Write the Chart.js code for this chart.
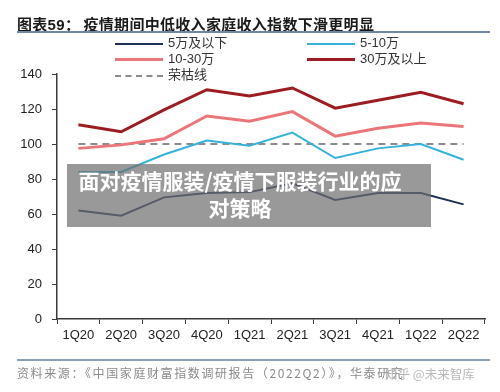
<!DOCTYPE html>
<html>
<head>
<meta charset="utf-8">
<script src="https://cdn.jsdelivr.net/npm/chart.js@4.4.0/dist/chart.umd.min.js"></script>
<style>
  body { margin: 0; background: #fff; }
  #wrap { position: relative; width: 500px; height: 392px; overflow: hidden; font-family: "Liberation Sans", Arial, "Noto Sans CJK SC", sans-serif; }
  #myChart { position: absolute; left: 0; top: 0; }
  .title { position: absolute; left: 17px; top: 13px; font-size: 15px; font-weight: bold; color: #1a1a1a; letter-spacing: 0.3px; white-space: nowrap; }
  .rule { position: absolute; left: 17px; width: 473px; height: 2px; background: #6f87a0; }
  .leg { position: absolute; font-size: 13px; color: #333; white-space: nowrap; line-height: 16px; }
  .leg .sw { display: inline-block; width: 48px; vertical-align: middle; margin-right: 5px; }
  .src { position: absolute; left: 17px; top: 364px; font-size: 12px; color: #8a8a8a; letter-spacing: 1.6px; white-space: nowrap; font-family: "Noto Sans CJK SC", sans-serif; }
  .wm { position: absolute; left: 385px; top: 364px; font-size: 12.5px; color: #b8b8b8; white-space: nowrap; font-family: "Noto Sans CJK SC", sans-serif; }
  .cover { position: absolute; left: 67px; top: 164px; width: 364px; height: 63px; background: rgba(110,110,110,0.7); color: #fff; font-weight: bold; font-size: 21px; line-height: 27px; text-align: center; padding-right: 18px; box-sizing: border-box; padding-top: 3px; font-family: "Noto Sans CJK SC", sans-serif; white-space: nowrap; }
</style>
</head>
<body>
<div id="wrap">
  <canvas id="myChart" width="500" height="392"></canvas>
  <div class="title">图表59：&thinsp;疫情期间中低收入家庭收入指数下滑更明显</div>
  <div class="rule" style="top:31px"></div>
  <div id="legend"></div>
  <div class="cover">面对疫情服装/疫情下服装行业的应<br>对策略</div>
  <div class="rule" style="top:359px; height:1.5px; background:#8aa0b4"></div>
  <div class="src">资料来源：《中国家庭财富指数调研报告（2022Q2）》，华泰研究</div>
  <div class="wm">知乎 @未来智库</div>
</div>
<script>
const categories = ['1Q20', '2Q20', '3Q20', '4Q20', '1Q21', '2Q21', '3Q21', '4Q21', '1Q22', '2Q22'];
const below5 = [62, 59, 69.5, 72, 72.5, 77.5, 68, 72, 72, 65.5];
const from5to10 = [84, 84, 94, 102, 99, 106.5, 92, 97.5, 100, 91];
const from10to30 = [97.5, 99.5, 103, 116, 113, 118.5, 104.5, 109, 112, 110];
const above30 = [111, 107, 119.5, 131, 127.5, 132, 120.5, 125, 129.5, 123];
const boomBust = [100, 100, 100, 100, 100, 100, 100, 100, 100, 100];
const yTicks = [0, 20, 40, 60, 80, 100, 120, 140];

const series = [
  { label: '5万及以下', data: below5, color: '#1c3058', width: 2, dash: [] },
  { label: '5-10万', data: from5to10, color: '#35b2da', width: 2, dash: [] },
  { label: '10-30万', data: from10to30, color: '#ea7679', width: 3, dash: [] },
  { label: '30万及以上', data: above30, color: '#9c1c22', width: 3, dash: [] },
  { label: '荣枯线', data: boomBust, color: '#8c8c8c', width: 2, dash: [7, 5] }
];

// legend, 2 columns
const legPos = [[115, 43], [307, 43], [115, 59], [307, 59], [115, 75]];
let html = '';
series.forEach(function (s, i) {
  let sw;
  if (s.dash.length) {
    sw = '<span class="sw" style="border-top:2px dashed ' + s.color + ';height:0"></span>';
  } else {
    sw = '<span class="sw" style="height:' + s.width + 'px;background:' + s.color + '"></span>';
  }
  html += '<div class="leg" style="left:' + legPos[i][0] + 'px;top:' + (legPos[i][1] - 8) + 'px">' + sw + s.label + '</div>';
});
document.getElementById('legend').innerHTML = html;

const ctx = document.getElementById('myChart').getContext('2d');
const axisColor = '#3a3a3a';

let myChart = new Chart(ctx, {
  type: 'line',
  data: {
    labels: categories,
    datasets: series.map(function (s) {
      return {
        label: s.label,
        data: s.data,
        borderColor: s.color,
        borderWidth: s.width,
        borderDash: s.dash,
        pointRadius: 0,
        tension: 0,
        fill: false
      };
    })
  },
  options: {
    responsive: false,
    animation: false,
    layout: { padding: { left: 0, right: 15, top: 74, bottom: 43 } },
    plugins: {
      legend: { display: false },
      title: { display: false },
      tooltip: { enabled: false }
    },
    scales: {
      x: {
        offset: true,
        grid: { offset: true, drawOnChartArea: false, color: axisColor, tickLength: 5, tickColor: axisColor },
        border: { color: axisColor, width: 1.5 },
        ticks: { color: '#222', font: { size: 13, family: '"Liberation Sans", Arial' }, padding: 4, maxRotation: 0, autoSkip: false },
        afterFit: function (scale) { scale.height = 30; }
      },
      y: {
        min: 0,
        max: 140,
        afterBuildTicks: function (scale) { scale.ticks = yTicks.map(function (v) { return { value: v }; }); },
        grid: { drawOnChartArea: false, tickLength: 5, tickColor: axisColor },
        border: { color: axisColor, width: 1.5 },
        ticks: { color: '#222', font: { size: 13, family: '"Liberation Sans", Arial' }, padding: 10 },
        afterFit: function (scale) { scale.width = 57; }
      }
    }
  }
});
</script>
</body>
</html>
